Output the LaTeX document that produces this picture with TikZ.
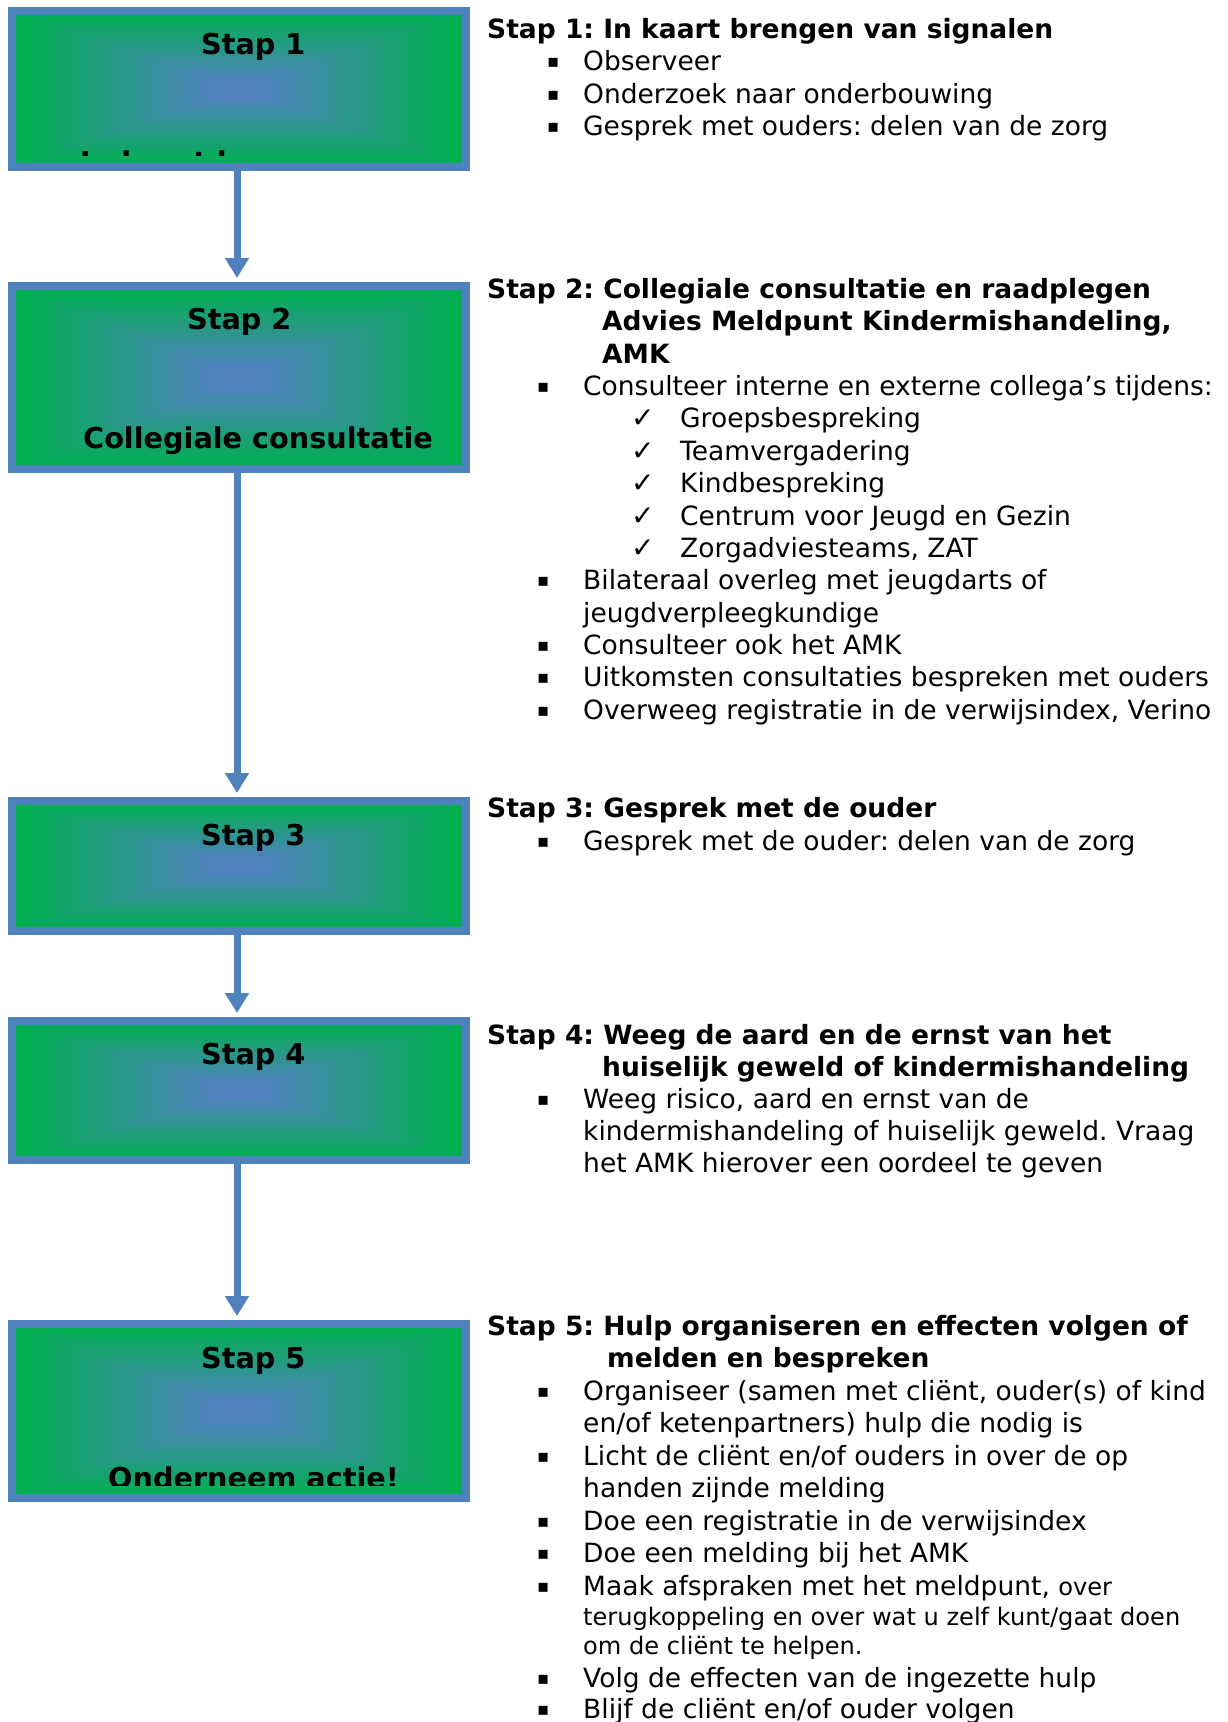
\documentclass[tikz,border=0pt]{standalone}
\usepackage{fontspec}
\setmainfont{DejaVu Sans}
\usetikzlibrary{arrows.meta,calc}
\definecolor{kaderblauw}{HTML}{4F81BD}
\definecolor{vulgroen}{HTML}{00B050}
\newcommand{\blokje}{{\fontsize{18}{18}\selectfont\raisebox{3pt}{▪}}}
\newcommand{\vinkje}{{\fontsize{28}{28}\selectfont ✓}}
\newcommand{\opsom}{\hspace*{50pt}\makebox[46pt][l]{\blokje}}
\newcommand{\opsomeen}{\hspace*{60pt}\makebox[36pt][l]{\blokje}}
\newcommand{\vink}{\hspace*{144pt}\makebox[49pt][l]{\vinkje}}
\newcommand{\inspring}{\hspace*{96pt}}
\newcommand{\kleiner}{\fontsize{24.1}{29.5}\selectfont}
\tikzset{
  stapbox/.style={draw=kaderblauw, line width=8pt, minimum width=454pt, inner sep=0pt,
    path picture={
      \foreach \k [evaluate=\k as \p using {int(max(0,min(100,(\k/60-0.03)/0.87*100)))},
                   evaluate=\k as \f using 1-\k/61] in {0,...,60}
        \fill[kaderblauw!\p!vulgroen]
          ($(path picture bounding box.center)!\f!(path picture bounding box.north west)$) rectangle
          ($(path picture bounding box.center)!\f!(path picture bounding box.south east)$);
    }},
  staptitel/.style={anchor=base west, inner sep=0pt, font=\fontsize{28.7}{34}\selectfont\bfseries},
  regel/.style={anchor=base west, inner sep=0pt, font=\fontsize{26.5}{32}\selectfont\frenchspacing},
  pijl/.style={draw=kaderblauw, line width=7pt, -{Triangle[width=23pt,length=20pt]}, shorten >=4pt}
}
\begin{document}
\begin{tikzpicture}[x=1pt,y=-1pt]
\fill[white] (0,0) rectangle (1228,1722);
\useasboundingbox (0,0) rectangle (1228,1722);
% stappen links
\node[stapbox, minimum height=156pt] (s1) at (239,89) {};
\node[stapbox, minimum height=183pt] (s2) at (239,377.5) {};
\node[stapbox, minimum height=130pt] (s3) at (239,866) {};
\node[stapbox, minimum height=139pt] (s4) at (239,1090.5) {};
\node[stapbox, minimum height=174pt] (s5) at (239,1411) {};
\node[staptitel] (s1titel) at (201,54) {Stap 1};
\node[staptitel] (s2titel) at (187,329) {Stap 2};
\node[staptitel] (s2tekst) at (83,448) {Collegiale consultatie};
\node[staptitel] (s3titel) at (201,845) {Stap 3};
\node[staptitel] (s4titel) at (201,1064) {Stap 4};
\node[staptitel] (s5titel) at (201,1368) {Stap 5};
\begin{scope}
  \clip (16,15) rectangle (462,155);
  \node[staptitel] (s1tekst) at (80,172) {In kaart brengen};
\end{scope}
\begin{scope}
  \clip (16,1328) rectangle (462,1485);
  \node[staptitel] (s5tekst) at (108,1488) {Onderneem actie!};
\end{scope}
\draw[pijl] ([xshift=-2pt]s1.south) -- ([xshift=-2pt]s2.north);
\draw[pijl] ([xshift=-2pt]s2.south) -- ([xshift=-2pt]s3.north);
\draw[pijl] ([xshift=-2pt]s3.south) -- ([xshift=-2pt]s4.north);
\draw[pijl] ([xshift=-2pt]s4.south) -- ([xshift=-2pt]s5.north);
% toelichting rechts
\foreach \tekst [count=\i] in {
  {\textbf{Stap 1: In kaart brengen van signalen}},
  {\opsomeen Observeer},
  {\opsomeen Onderzoek naar onderbouwing},
  {\opsomeen Gesprek met ouders: delen van de zorg}}
  \node[regel] (k1-\i) at (487,{38.2+32.5*(\i-1)}) {\tekst};
\foreach \tekst [count=\i] in {
  {\textbf{Stap 2: Collegiale consultatie en raadplegen}},
  {\textbf{\hspace*{115pt}Advies Meldpunt Kindermishandeling,}},
  {\textbf{\hspace*{115pt}AMK}},
  {\opsom Consulteer interne en externe collega’s tijdens:},
  {\vink Groepsbespreking},
  {\vink Teamvergadering},
  {\vink Kindbespreking},
  {\vink Centrum voor Jeugd en Gezin},
  {\vink Zorgadviesteams, ZAT},
  {\opsom Bilateraal overleg met jeugdarts of},
  {\inspring jeugdverpleegkundige},
  {\opsom Consulteer ook het AMK},
  {\opsom Uitkomsten consultaties bespreken met ouders},
  {\opsom Overweeg registratie in de verwijsindex, Verino}}
  \node[regel] (k2-\i) at (487,{298.5+32.36*(\i-1)}) {\tekst};
\node[regel] (k3-1) at (487,817) {\textbf{Stap 3: Gesprek met de ouder}};
\node[regel] (k3-2) at (487,850) {\opsom Gesprek met de ouder: delen van de zorg};
\foreach \tekst [count=\i] in {
  {\textbf{Stap 4: Weeg de aard en de ernst van het}},
  {\textbf{\hspace*{115pt}huiselijk geweld of kindermishandeling}},
  {\opsom Weeg risico, aard en ernst van de},
  {\inspring kindermishandeling of huiselijk geweld. Vraag},
  {\inspring het AMK hierover een oordeel te geven}}
  \node[regel] (k4-\i) at (487,{1044.3+32.1*(\i-1)}) {\tekst};
\foreach \tekst [count=\i] in {
  {\textbf{Stap 5: Hulp organiseren en effecten volgen of}},
  {\textbf{\hspace*{120pt}melden en bespreken}},
  {\opsom Organiseer (samen met cliënt, ouder(s) of kind},
  {\inspring en/of ketenpartners) hulp die nodig is},
  {\opsom Licht de cliënt en/of ouders in over de op},
  {\inspring handen zijnde melding},
  {\opsom Doe een registratie in de verwijsindex},
  {\opsom Doe een melding bij het AMK},
  {\opsom Maak afspraken met het meldpunt, {\kleiner over}}}
  \node[regel] (k5-\i) at (487,{1335+32.5*(\i-1)}) {\tekst};
\node[regel] (k5-10) at (487,1625) {\kleiner\inspring terugkoppeling en over wat u zelf kunt/gaat doen};
\node[regel] (k5-11) at (487,1654.5) {\kleiner\inspring om de cliënt te helpen.};
\node[regel] (k5-12) at (487,1687) {\opsom Volg de effecten van de ingezette hulp};
\node[regel] (k5-13) at (487,1718.5) {\opsom Blijf de cliënt en/of ouder volgen};
\end{tikzpicture}
\end{document}
